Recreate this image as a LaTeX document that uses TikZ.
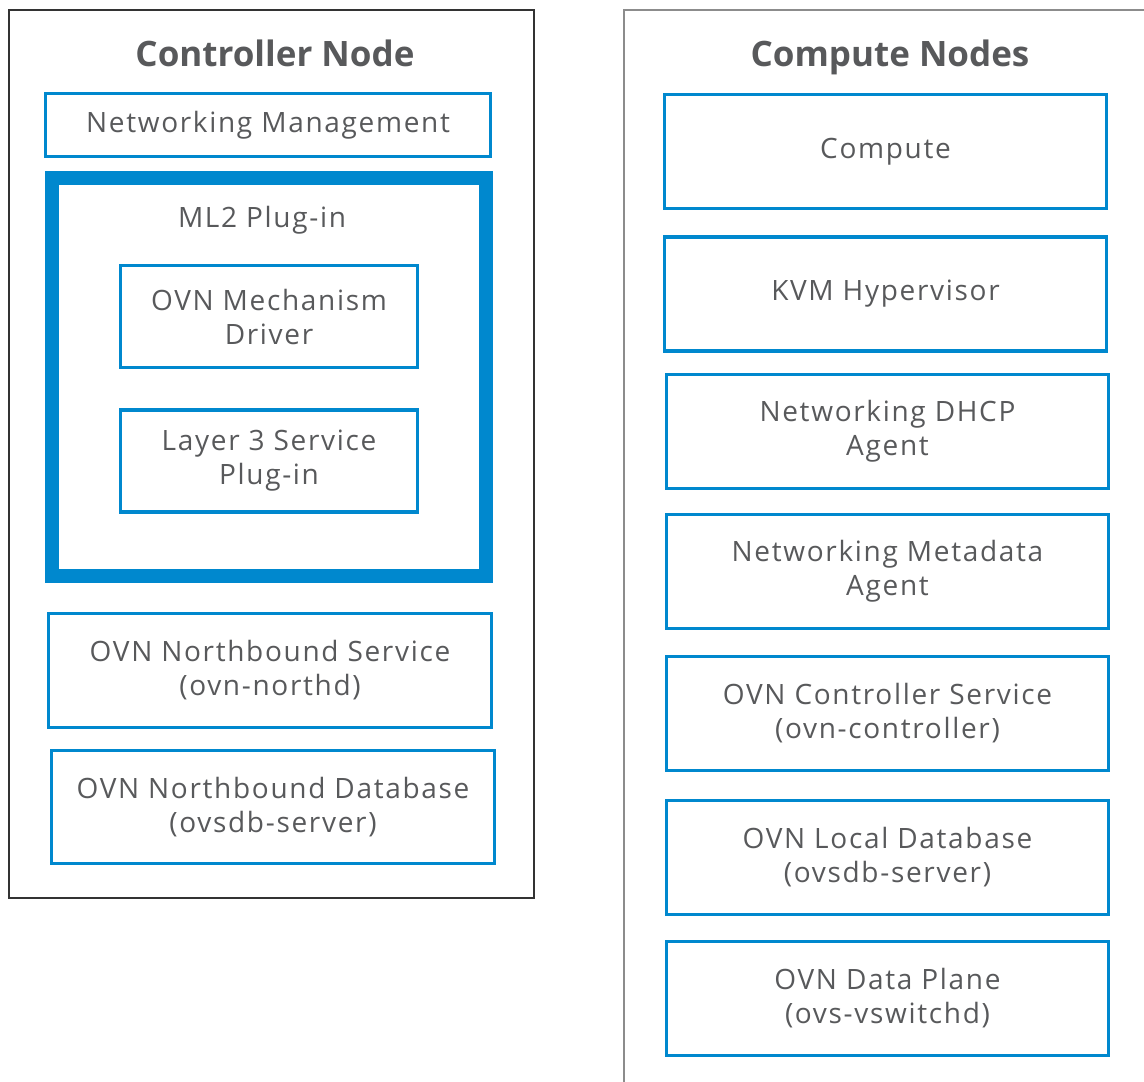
\documentclass[tikz,border=0pt]{standalone}
\usepackage{fontspec}
\setmainfont{Open Sans}[LetterSpace=6]
\newfontfamily\headfont{Open Sans}
\definecolor{ovnblue}{HTML}{0088CE}
\definecolor{labelgrey}{HTML}{58595B}
\tikzset{
  hostbox/.style={line width=2pt},
  svcbox/.style={draw=ovnblue, line width=3.5pt, inner sep=0pt, align=center,
    text=labelgrey, font=\fontsize{28}{34}\selectfont},
  hosttitle/.style={text=labelgrey, anchor=base, font=\headfont\bfseries\fontsize{35}{40}\selectfont},
}
\begin{document}
\begin{tikzpicture}[x=1pt,y=-1pt]
\useasboundingbox (0,0) rectangle (1144,1082);

% controller side
\draw [hostbox, draw=black!80] (9,10) rectangle (534,898);
\node (ctrltitle) [hosttitle] at (275,66) {Controller Node};
\node (netmgmt) [svcbox, minimum width=445pt, minimum height=63pt] at (268,125) {Networking Management};
\node (ml2) [svcbox, line width=14pt, minimum width=434pt, minimum height=398pt] at (268.5,377) {};
\node (ml2label) [text=labelgrey, font=\fontsize{28}{34}\selectfont] at (262,220) {ML2 Plug-in};
\node (mechdrv) [svcbox, minimum width=297pt, minimum height=102pt] at (269,316.5) {OVN Mechanism\\Driver};
\node (l3plugin) [svcbox, minimum width=297pt, minimum height=102pt] at (269,461) {Layer 3 Service\\Plug-in};
\node (northd) [svcbox, minimum width=443pt, minimum height=114pt] at (270,670.5) {OVN Northbound Service\\(ovn-northd)};
\node (nbdb) [svcbox, minimum width=443pt, minimum height=113pt] at (273,807) {OVN Northbound Database\\(ovsdb-server)};

% compute side
\draw [hostbox, draw=black!45] (1144,10) -- (624,10) -- (624,1082);
\node (comptitle) [hosttitle] at (890,66) {Compute Nodes};
\node (compute) [svcbox, minimum width=442pt, minimum height=114pt] at (885.5,151.5) {Compute};
\node (kvm) [svcbox, minimum width=442pt, minimum height=114pt] at (885.5,294) {KVM Hypervisor};
\node (dhcp) [svcbox, minimum width=442pt, minimum height=114pt] at (887.5,431.5) {Networking DHCP\\Agent};
\node (metadata) [svcbox, minimum width=442pt, minimum height=114pt] at (887.5,571.5) {Networking Metadata\\Agent};
\node (ovnctrl) [svcbox, minimum width=442pt, minimum height=114pt] at (887.5,713.5) {OVN Controller Service\\(ovn-controller)};
\node (localdb) [svcbox, minimum width=442pt, minimum height=114pt] at (887.5,857.5) {OVN Local Database\\(ovsdb-server)};
\node (dataplane) [svcbox, minimum width=442pt, minimum height=114pt] at (887.5,998.5) {OVN Data Plane\\(ovs-vswitchd)};
\end{tikzpicture}
\end{document}
